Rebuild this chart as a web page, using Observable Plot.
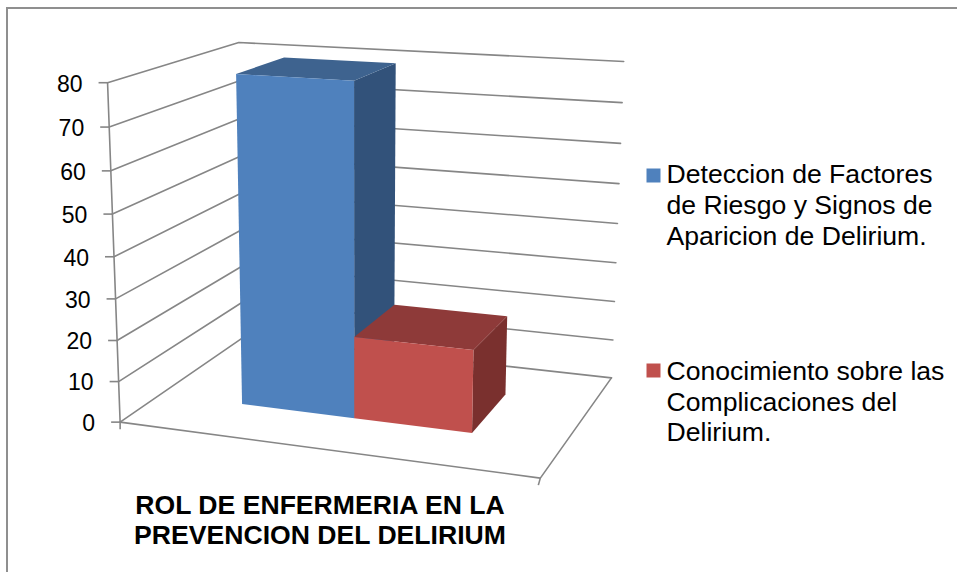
<!DOCTYPE html>
<html><head><meta charset="utf-8">
<script src="https://cdn.jsdelivr.net/npm/d3@7"></script>
<script src="https://cdn.jsdelivr.net/npm/@observablehq/plot@0.6"></script>
<style>
html,body{margin:0;background:#fff}
#chart{position:relative;width:957px;height:572px;overflow:hidden}
#frame{position:absolute;left:6px;top:7px;right:-5px;bottom:-5px;border-left:2px solid #8f8f8f;border-top:2px solid #8f8f8f;pointer-events:none}
</style></head><body><div id="chart"><div id="frame"></div></div>
<script>
const categoryLines = ["ROL DE ENFERMERIA EN LA", "PREVENCION DEL DELIRIUM"];
const seriesNames = [
  ["Deteccion de Factores", "de Riesgo y Signos de", "Aparicion de Delirium."],
  ["Conocimiento sobre las", "Complicaciones del", "Delirium."]
];
const seriesValues = [80, 20];
const ticks = [0, 10, 20, 30, 40, 50, 60, 70, 80];
const frontColors = ["#4f81bd", "#c0504d"];
const topColors = ["#3e638f", "#8e3a39"];
const sideColors = ["#32527a", "#7a302e"];

// Fitting the perspective of the 3D box: u across, v value, w depth
const vMax = 80;
const anchors = [
  [0, 0, 0, 120, 421], [0, 1, 0, 106.5, 82.5], [0, 1, 1, 239, 41.7], [0, 0, 1, 243, 337],
  [1, 1, 1, 623, 61], [1, 0, 1, 611, 377], [1, 0, 0, 540, 478]
];
function solve(rows) {
  const n = 11, A = d3.range(n).map(() => new Array(n + 1).fill(0));
  for (const r of rows) for (let i = 0; i < n; i++) {
    for (let j = 0; j < n; j++) A[i][j] += r[i] * r[j];
    A[i][n] += r[i] * r[n];
  }
  for (let i = 0; i < n; i++) {
    let m = i;
    for (let k = i + 1; k < n; k++) if (Math.abs(A[k][i]) > Math.abs(A[m][i])) m = k;
    [A[i], A[m]] = [A[m], A[i]];
    for (let k = 0; k < n; k++) if (k !== i) {
      const f = A[k][i] / A[i][i];
      for (let j = i; j <= n; j++) A[k][j] -= f * A[i][j];
    }
  }
  return A.map((r, i) => r[n] / r[i]);
}
const rows = [];
for (const [u, v, w, x, y] of anchors) {
  rows.push([u, v, w, 1, 0, 0, 0, 0, -x * u, -x * v, -x * w, x]);
  rows.push([0, 0, 0, 0, u, v, w, 1, -y * u, -y * v, -y * w, y]);
}
const P = solve(rows);
function project(u, value, w) {
  const v = value / vMax, d = P[8] * u + P[9] * v + P[10] * w + 1;
  return {x: (P[0] * u + P[1] * v + P[2] * w + P[3]) / d, y: (P[4] * u + P[5] * v + P[6] * w + P[7]) / d};
}

// Excel's 150% gap width and depth
const uEdges = [3 / 14, 0.5, 11 / 14];
const wFront = 0.3, wBack = 0.7;

const gridPath = [];
for (const t of ticks) gridPath.push(
  {id: "g" + t, ...project(0, t, 0)}, {id: "g" + t, ...project(0, t, 1)}, {id: "g" + t, ...project(1, t, 1)}
);
const frame = [project(0, 0, 0), project(1, 0, 0), project(1, 0, 1)].map(p => ({id: "floor", ...p}));
const axisV = [project(0, 0, 0), project(0, vMax, 0)].map(p => ({id: "axis", ...p}));
const stubs = ticks.map(t => { const p = project(0, t, 0); return {x1: p.x - 9, x2: p.x, y1: p.y, y2: p.y, t}; });
const lowTicks = [0, 1].map(u => { const a = project(u, 0, 0); return {x1: a.x, x2: a.x - 2 * u, y1: a.y, y2: a.y + 7}; });
const faces = [];
seriesValues.forEach((val, i) => {
  const u0 = uEdges[i], u1 = uEdges[i + 1];
  const poly = (pts, fill, key) => pts.forEach(p => faces.push({id: key + i, fill, ...project(...p)}));
  poly([[u1, 0, wFront], [u1, 0, wBack], [u1, val, wBack], [u1, val, wFront]], sideColors[i], "side");
  poly([[u0, val, wFront], [u1, val, wFront], [u1, val, wBack], [u0, val, wBack]], topColors[i], "top");
  poly([[u0, 0, wFront], [u1, 0, wFront], [u1, val, wFront], [u0, val, wFront]], frontColors[i], "front");
});
const legendX = 666, legendStarts = [174, 371], lineSteps = [31, 30.5];
const legendText = seriesNames.flatMap((ls, i) => ls.map((t, j) => ({t, x: legendX, y: legendStarts[i] + j * lineSteps[i]})));
const swatches = legendStarts.map((y, i) => ({x: 653, y: y + (i ? -1 : 1), fill: frontColors[i]}));
const titleText = categoryLines.map((t, i) => ({t, x: 319.5, y: 505 + i * 30}));
const font = "Liberation Sans, Arial, sans-serif";
const grey = "#868686", lineW = 1.6;

const plot = Plot.plot({
  width: 957, height: 572, margin: 0,
  x: {domain: [0, 957], range: [0, 957], axis: null},
  y: {domain: [0, 572], range: [0, 572], axis: null},
  style: {background: "transparent", fontFamily: font},
  marks: [
    Plot.line(gridPath, {x: "x", y: "y", z: "id", stroke: grey, strokeWidth: lineW}),
    Plot.line(frame, {x: "x", y: "y", z: "id", stroke: grey, strokeWidth: lineW}),
    Plot.line(axisV, {x: "x", y: "y", z: "id", stroke: grey, strokeWidth: lineW}),
    Plot.link(stubs, {x1: "x1", x2: "x2", y1: "y1", y2: "y2", stroke: grey, strokeWidth: lineW}),
    Plot.link(lowTicks, {x1: "x1", x2: "x2", y1: "y1", y2: "y2", stroke: grey, strokeWidth: lineW}),
    Plot.line(faces, {x: "x", y: "y", z: "id", fill: "fill", stroke: "none"}),
    Plot.text(stubs, {x: "x1", y: "y1", text: d => String(d.t), textAnchor: "end", dx: -16, dy: 1.5, fontSize: 23, fill: "#000"}),
    Plot.dot(swatches, {x: "x", y: "y", symbol: "square", r: 7.9, fill: "fill", stroke: "none"}),
    Plot.text(legendText, {x: "x", y: "y", text: "t", textAnchor: "start", fontSize: 26.6, fill: "#000"}),
    Plot.text(titleText, {x: "x", y: "y", text: "t", textAnchor: "middle", fontSize: 26.6, fontWeight: "bold", fill: "#000"})
  ]
});
document.getElementById("chart").appendChild(plot);
</script></body></html>
